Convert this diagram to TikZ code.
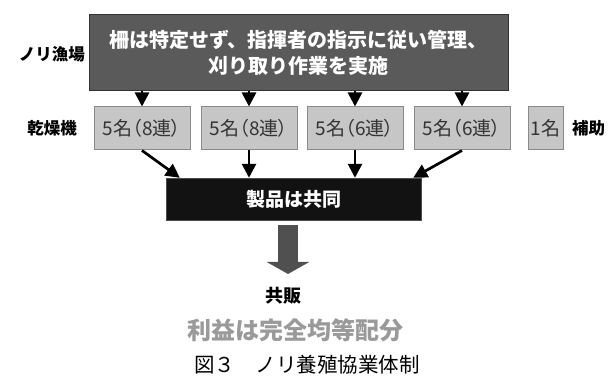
\documentclass[tikz,border=0pt]{standalone}
\usepackage{fontspec}
\setmainfont{Noto Sans CJK JP}
\newfontfamily\kastenschrift[RawFeature=+palt]{Noto Sans CJK JP}
\usetikzlibrary{arrows.meta}

\definecolor{dunkelgrau}{HTML}{5A5A5A}
\definecolor{hellgrau}{HTML}{C6C6C6}
\definecolor{randgrau}{HTML}{8A8A8A}
\definecolor{textgrau}{HTML}{333333}
\definecolor{pfeilgrau}{HTML}{505050}
\definecolor{gewinngrau}{HTML}{9A9A9A}

\tikzset{
	oberkasten/.style={draw=black!80, line width=1pt, fill=dunkelgrau, text=white,
		minimum width=419pt, minimum height=76pt, align=center, inner sep=0pt,
		font=\bfseries\fontsize{20}{26}\selectfont},
	trockner/.style={draw=randgrau, line width=1pt, fill=hellgrau, text=textgrau,
		minimum height=43pt, inner sep=0pt, font=\kastenschrift\fontsize{19}{20}\selectfont},
	produktkasten/.style={draw=black!70, fill=black!93, text=white,
		minimum width=255pt, minimum height=42pt, inner sep=0pt,
		font=\bfseries\fontsize{19}{21}\selectfont},
	zeile/.style={inner sep=0pt, font=\bfseries\fontsize{16.5}{18}\selectfont},
	pfeil/.style={line width=2.7pt, -{Triangle[width=14pt,length=14pt]}},
	blockpfeil/.style={line width=20pt, pfeilgrau, -{Triangle[width=42pt,length=12pt]}}
}

\begin{document}
\begin{tikzpicture}[x=1pt, y=-1pt]
	\useasboundingbox (0,0) rectangle (611,379);
	% Fischgrund
	\node[oberkasten] (oben) at (298.5,53)
		{柵は特定せず、指揮者の指示に従い管理、\\刈り取り作業を実施};
	\node[zeile] (fischgrund) at (52,54) {ノリ漁場};

	% Trockner
	\node[zeile] (trocknerlabel) at (52,128.5) {乾燥機};
	\foreach \i/\x/\t in {1/142/5名（8連）, 2/249/5名（8連）, 3/355/5名（6連）, 4/462/5名（6連）}
	{
		\node[trockner, minimum width=96pt] (t\i) at (\x,128.5) {\t};
		\draw[pfeil] (t\i.north |- oben.south) -- (t\i.north);
	}
	\node[trockner, minimum width=35pt] (t5) at (545.5,128.5) {1名};
	\node[zeile, anchor=west] (hilfe) at (572,128.5) {補助};

	% Produkt
	\node[produktkasten] (produkt) at (293.5,199) {製品は共同};
	\draw[pfeil] (t1.south) -- ([xshift=14pt]produkt.north west);
	\draw[pfeil] (t2.south) -- (t2.south |- produkt.north);
	\draw[pfeil] (t3.south) -- (t3.south |- produkt.north);
	\draw[pfeil] (t4.south) -- ([xshift=-8pt]produkt.north east);

	% Verkauf
	\coordinate (pfeilende) at (288,274);
	\draw[blockpfeil] ([yshift=-5pt]produkt.south -| pfeilende) -- (pfeilende);
	\node[zeile, font=\bfseries\fontsize{18}{20}\selectfont] (hanbai) at (283,296) {共販};
	\node[inner sep=0pt, text=gewinngrau, font=\bfseries\fontsize{24}{26}\selectfont]
		(gewinn) at (295.5,330) {利益は完全均等配分};

	% Bildunterschrift
	\node[inner sep=0pt, font=\fontsize{20.5}{22}\selectfont] (titel) at (307,365)
		{図３　ノリ養殖協業体制};
\end{tikzpicture}
\end{document}
